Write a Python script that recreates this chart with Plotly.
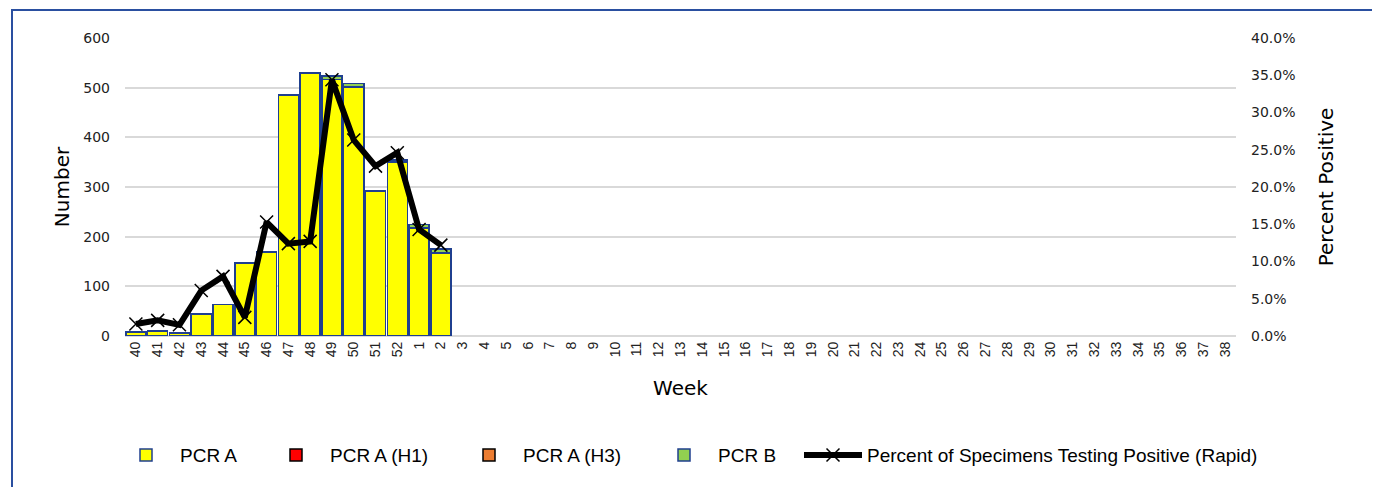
import plotly.graph_objects as go

weeks = ["40", "41", "42", "43", "44", "45", "46", "47", "48", "49", "50", "51", "52"] + [str(i) for i in range(1, 39)]

pcr_a = [7, 9, 6, 44, 63, 147, 168, 484, 530, 516, 501, 291, 350, 217, 167]
pcr_a_h1 = [0, 0, 0, 0, 0, 0, 0, 0, 0, 0, 0, 0, 0, 0, 0]
pcr_a_h3 = [0, 0, 0, 0, 0, 0, 0, 0, 0, 0, 0, 0, 0, 0, 0]
pcr_b = [1, 1, 1, 0, 0, 0, 1, 2, 1, 7, 7, 1, 4, 8, 8]
pct_rapid = [0.016, 0.021, 0.015, 0.061, 0.080, 0.025, 0.153, 0.124, 0.127, 0.344, 0.263, 0.228, 0.246, 0.143, 0.122]

n = len(weeks)
def pad(v):
    return list(v) + [None] * (n - len(v))

BLUE = "#1F3F8F"
fig = go.Figure()
fig.add_trace(go.Bar(x=weeks, y=pad(pcr_a), name="PCR A", legend="legend",
                     marker=dict(color="#FFFF00", line=dict(color=BLUE, width=1.5))))
fig.add_trace(go.Bar(x=weeks, y=pad(pcr_a_h1), name="PCR A (H1)", legend="legend2",
                     marker=dict(color="#FF0000", line=dict(color="#000000", width=1.5))))
fig.add_trace(go.Bar(x=weeks, y=pad(pcr_a_h3), name="PCR A (H3)", legend="legend3",
                     marker=dict(color="#ED7D31", line=dict(color="#000000", width=1.5))))
fig.add_trace(go.Bar(x=weeks, y=pad(pcr_b), name="PCR B", legend="legend4",
                     marker=dict(color="#92D050", line=dict(color=BLUE, width=1.5))))
fig.add_trace(go.Scatter(x=weeks, y=pad(pct_rapid), name="Percent of Specimens Testing Positive (Rapid)",
                         legend="legend5", yaxis="y2", mode="lines+markers",
                         line=dict(color="#000000", width=6),
                         marker=dict(symbol="x-thin", size=13, color="#000000", line=dict(color="#000000", width=1.5))))

tickfont = dict(family="DejaVu Sans", size=14, color="#222222")
titlefont = dict(family="DejaVu Sans", size=20, color="#000000")

W, H = 1372, 479   # page body adds an 8px offset
L, T = 117, 30
PW, PH = 1111, 298

legend_text_x = [180, 330, 523, 718, 867]   # reference page pixels where legend texts begin
def legend_at(px):
    return dict(orientation="h", x=(px - 68 - 8 - L) / PW, xanchor="left", y=-0.40, yanchor="middle",
                itemwidth=58, bgcolor="rgba(0,0,0,0)",
                font=dict(family="Liberation Sans", size=19, color="#000000"))

fig.update_layout(
    width=W, height=H,
    margin=dict(l=L, r=W - L - PW, t=T, b=H - T - PH, autoexpand=False),
    paper_bgcolor="white", plot_bgcolor="white",
    barmode="stack", bargap=0.08,
    showlegend=True,
    legend=legend_at(legend_text_x[0]),
    legend2=legend_at(legend_text_x[1]),
    legend3=legend_at(legend_text_x[2]),
    legend4=legend_at(legend_text_x[3]),
    legend5=legend_at(legend_text_x[4]),
    xaxis=dict(type="category", range=[-0.5, n - 0.5], tickmode="array", tickvals=weeks, ticktext=weeks,
               tickangle=-90, tickfont=dict(family="Liberation Sans", size=14, color="#222222"),
               showgrid=False, showline=False, ticks="", automargin=False, ticklabelstandoff=2,
               title=dict(text="Week", font=titlefont, standoff=24)),
    yaxis=dict(range=[0, 600], dtick=100, showgrid=True, gridcolor="#D9D9D9", gridwidth=2,
               zeroline=True, zerolinecolor="#D9D9D9", zerolinewidth=2,
               tickfont=tickfont, ticks="", ticklabelstandoff=14, automargin=False,
               title=dict(text="Number", font=titlefont, standoff=8)),
    yaxis2=dict(range=[0, 0.4], dtick=0.05, tickformat=".1%", overlaying="y", side="right",
                showgrid=False, zeroline=False, tickfont=tickfont, ticks="", ticklabelstandoff=14,
                automargin=False,
                title=dict(text="Percent Positive", font=titlefont, standoff=24)),
)

# outer frame (reference pixel box: x 12..1373, top y 10)
fig.add_shape(type="rect", xref="paper", yref="paper",
              x0=(12 - 8 - L) / PW, x1=(1373 - 8 - L) / PW, y0=-0.6, y1=(T + PH - (10 - 8)) / PH,
              line=dict(color="#2A4FA0", width=2), fillcolor="rgba(0,0,0,0)", layer="below")

# clipped red title fragment
fig.add_annotation(text="<b><i>y</i></b>", xref="paper", yref="paper", x=(449 - 8 - L) / PW, y=1.13,
                   xanchor="center", yanchor="bottom", showarrow=False,
                   font=dict(family="Liberation Sans", size=26, color="#C00000"))

fig.write_html("out.html")
